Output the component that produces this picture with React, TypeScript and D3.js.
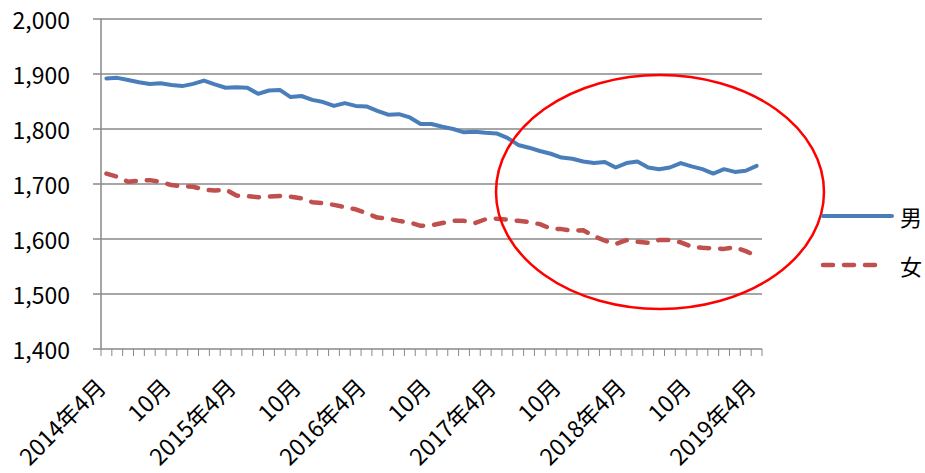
import React from "react";
import * as d3 from "d3";

const months: string[] = [];
for (let y = 2014; y <= 2019; y++) {
  for (let m = 1; m <= 12; m++) {
    if ((y === 2014 && m < 4) || (y === 2019 && m > 4)) continue;
    months.push(`${y}-${m}`);
  }
}

const male = [
  1892, 1893, 1889, 1885, 1882, 1883, 1880, 1878, 1882, 1888,
  1881, 1875, 1876, 1875, 1864, 1870, 1871, 1858, 1860, 1853,
  1849, 1842, 1847, 1842, 1841, 1833, 1826, 1827, 1821, 1809,
  1809, 1804, 1800, 1794, 1795, 1793, 1792, 1784, 1771, 1766,
  1760, 1755, 1748, 1746, 1741, 1738, 1740, 1730, 1738, 1741,
  1730, 1727, 1730, 1738, 1732, 1727, 1719, 1727, 1722, 1724,
  1733,
];

const female = [
  1719, 1713, 1704, 1706, 1707, 1704, 1698, 1696, 1695, 1690,
  1688, 1690, 1679, 1678, 1676, 1677, 1678, 1677, 1674, 1667,
  1665, 1662, 1658, 1654, 1647, 1639, 1637, 1633, 1630, 1624,
  1625, 1629, 1633, 1633, 1629, 1636, 1637, 1635, 1633, 1631,
  1627, 1619, 1618, 1615, 1616, 1605, 1597, 1591, 1598, 1595,
  1593, 1598, 1598, 1594, 1586, 1584, 1583, 1582, 1585, 1578,
  1569,
];

const yTicks = [1400, 1500, 1600, 1700, 1800, 1900, 2000];
const seriesNames = ["男", "女"];

function monthLabel(key: string, i: number): string | null {
  if (i % 6 !== 0) return null;
  const [y, m] = key.split("-");
  return m === "4" ? `${y}年4月` : `${m}月`;
}

export default function App() {
  const W = 925, H = 473;
  const left = 101, right = 762, top = 19, bottom = 349;
  const x = d3.scaleBand<string>().domain(months).range([left, right]);
  const y = d3.scaleLinear().domain([1400, 2000]).range([bottom, top]);
  const cx = (k: string) => (x(k) as number) + x.bandwidth() / 2;
  const line = d3
    .line<number>()
    .x((_, i) => cx(months[i]))
    .y((d) => y(d));
  const font = "'Noto Sans CJK JP', 'Noto Sans', sans-serif";
  const grid = "#888888";
  const blue = "#4a7ebb";
  const red = "#c0504d";

  return (
    <div style={{ position: "absolute", left: 0, top: 0 }}>
      <svg width={W} height={H} style={{ display: "block", background: "#fff" }} fontFamily={font}>
        {yTicks.map((t) => (
          <g key={t}>
            <line x1={left} x2={right} y1={y(t)} y2={y(t)} stroke={grid} strokeWidth={1.5} />
            <line x1={left - 8} x2={left} y1={y(t)} y2={y(t)} stroke={grid} strokeWidth={1.5} />
            <text x={70} y={y(t)} textAnchor="end" dominantBaseline="central" fontSize={23} fill="#000">
              {d3.format(",")(t)}
            </text>
          </g>
        ))}
        <line x1={left} x2={left} y1={top} y2={bottom} stroke={grid} strokeWidth={1.5} />
        {months.map((k) => (
          <line key={k} x1={x(k) as number} x2={x(k) as number} y1={bottom} y2={bottom + 7} stroke={grid} strokeWidth={1} />
        ))}
        <line x1={right} x2={right} y1={bottom} y2={bottom + 7} stroke={grid} strokeWidth={1} />
        {months.map((k, i) => {
          const lab = monthLabel(k, i);
          if (!lab) return null;
          const px = cx(k);
          return (
            <text
              key={k}
              transform={`translate(${px + 1},${bottom + 40}) rotate(-45)`}
              textAnchor="end"
              fontSize={23}
              fill="#000"
            >
              {lab}
            </text>
          );
        })}
        <path d={line(male) || ""} fill="none" stroke={blue} strokeWidth={4} strokeLinejoin="round" strokeLinecap="round" />
        <path
          d={line(female) || ""}
          fill="none"
          stroke={red}
          strokeWidth={4.5}
          strokeDasharray="10 11"
          strokeLinecap="round"
          strokeLinejoin="round"
        />
        <ellipse cx={660} cy={192} rx={164} ry={117} fill="none" stroke="#ff0000" strokeWidth={2.5} />
        <line x1={823} x2={892} y1={216} y2={216} stroke={blue} strokeWidth={4} strokeLinecap="round" />
        <text x={900} y={216} dominantBaseline="central" fontSize={22} fill="#000">
          {seriesNames[0]}
        </text>
        <line x1={823} x2={885} y1={265} y2={265} stroke={red} strokeWidth={4.5} strokeDasharray="10 11" strokeLinecap="round" />
        <text x={900} y={265} dominantBaseline="central" fontSize={22} fill="#000">
          {seriesNames[1]}
        </text>
      </svg>
    </div>
  );
}
